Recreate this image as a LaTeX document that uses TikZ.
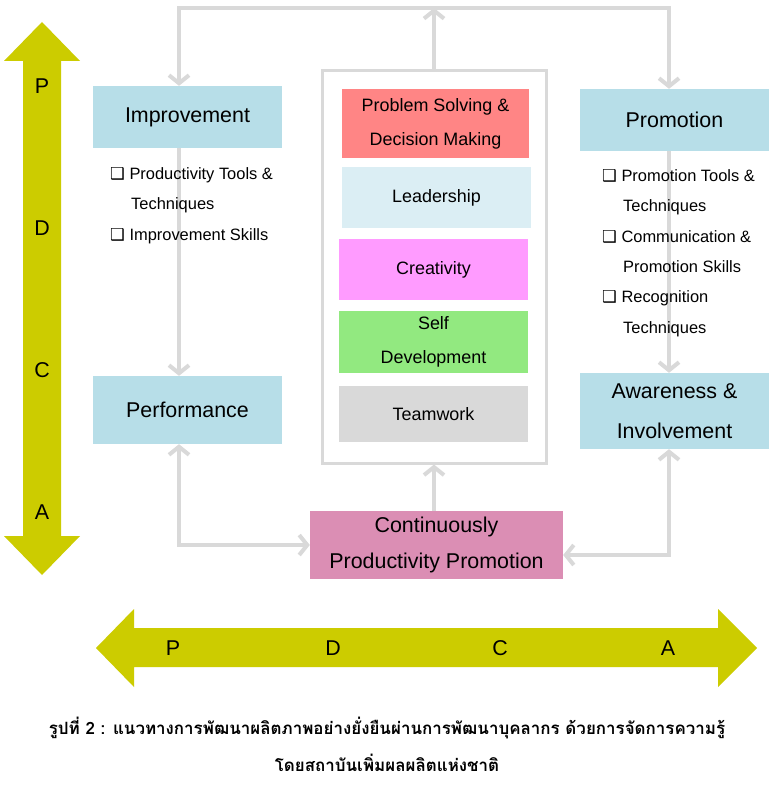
\documentclass[tikz,border=0pt]{standalone}
\usepackage{fontspec}
\setmainfont{Liberation Sans}
\newfontfamily\thaifont[Script=Thai]{Loma}
\newfontfamily\dingfont{DejaVu Sans}
\usetikzlibrary{arrows.meta}

\definecolor{pdcayellow}{RGB}{204,204,0}
\definecolor{boxblue}{RGB}{183,222,232}
\definecolor{probred}{RGB}{255,133,133}
\definecolor{leadblue}{RGB}{219,238,244}
\definecolor{creapink}{RGB}{255,155,255}
\definecolor{selfgreen}{RGB}{146,233,128}
\definecolor{teamgray}{RGB}{217,217,217}
\definecolor{contpink}{RGB}{219,142,180}
\definecolor{linkgray}{RGB}{217,217,217}

\newcommand{\chk}{{\dingfont\symbol{"2751}}}

\tikzset{
	box/.style={fill=#1, minimum width=189bp, inner sep=0pt, align=center},
	bigtext/.style={font=\fontsize{21.5}{40}\selectfont},
	skilltext/.style={font=\fontsize{18}{34}\selectfont},
	item/.style={anchor=base west, inner sep=0pt, font=\fontsize{16.5}{20}\selectfont},
	letter/.style={inner sep=0pt, font=\fontsize{21.5}{25}\selectfont},
	link/.style={draw=linkgray, line width=4bp},
	pdca/.style={fill=pdcayellow}
}

\begin{document}
\begin{tikzpicture}[x=1bp, y=-1bp, >={Straight Barb[length=8bp,width=20bp]}]
	\path[fill=white, use as bounding box] (0,0) rectangle (772,788);

	% PDCA Pfeile
	\fill[pdca] (42,22) -- (80,61) -- (61,61) -- (61,536) -- (80,536) -- (42,575)
		-- (4,536) -- (23,536) -- (23,61) -- (4,61) -- cycle;
	\node[letter] (vp) at (42,86) {P};
	\node[letter] (vd) at (42,228) {D};
	\node[letter] (vc) at (42,370) {C};
	\node[letter] (va) at (42,512) {A};

	\fill[pdca] (96,648) -- (134,609) -- (134,628) -- (718,628) -- (718,609) -- (757,648)
		-- (718,687) -- (718,667) -- (134,667) -- (134,687) -- cycle;
	\node[letter] (hp) at (173,648) {P};
	\node[letter] (hd) at (333,648) {D};
	\node[letter] (hc) at (500,648) {C};
	\node[letter] (ha) at (668,648) {A};

	% Kaesten
	\node[box=boxblue, bigtext, minimum height=62bp] (impr) at (187.5,117) {Improvement};
	\node[box=boxblue, bigtext, minimum height=68bp] (perf) at (187.5,410) {Performance};
	\node[box=boxblue, bigtext, minimum height=62bp] (promo) at (674.5,120) {Promotion};
	\node[box=boxblue, bigtext, minimum height=76bp] (aware) at (674.5,411) {Awareness \&\\Involvement};
	\node[box=contpink, bigtext, minimum width=253bp, minimum height=68bp,
		font=\fontsize{21.5}{36}\selectfont] (cont) at (436.5,545) {Continuously\\Productivity Promotion};

	% Rahmen mit Faehigkeiten
	\node[draw=linkgray, line width=3bp, minimum width=224bp, minimum height=392bp] (frame) at (434,267) {};
	\node[box=probred, skilltext, minimum width=187bp, minimum height=69bp] (prob) at (435.5,123.5)
		{Problem Solving \&\\Decision Making};
	\node[box=leadblue, skilltext, minimum height=61bp] (lead) at (436.5,197.5) {Leadership};
	\node[box=creapink, skilltext, minimum height=61bp] (crea) at (433.5,269.5) {Creativity};
	\node[box=selfgreen, skilltext, minimum height=62bp] (self) at (433.5,342) {Self\\Development};
	\node[box=teamgray, skilltext, minimum height=56bp] (team) at (433.5,414) {Teamwork};

	% Verbindungen
	\coordinate (top) at (434,8);
	\coordinate (lx) at (179,8);
	\coordinate (rx) at (669,8);
	\draw[link, ->] (frame.north) -- (top);
	\draw[link, <->] (lx |- impr.north) -- (lx) -- (rx) -- (rx |- promo.north);
	\draw[link, ->] (lx |- impr.south) -- (lx |- perf.north);
	\draw[link, ->] (rx |- promo.south) -- (rx |- aware.north);
	\draw[link, <->] (lx |- perf.south) |- (cont.west);
	\draw[link, <->] (rx |- aware.south) |- ([yshift=-10bp]cont.east);
	\draw[link, ->] (frame.south |- cont.north) -- (frame.south);

	% Aufzaehlungen
	\node[item] (i1) at (110,179) {\chk\ Productivity Tools \&};
	\node[item] (i2) at (131,209.5) {Techniques};
	\node[item] (i3) at (110,240) {\chk\ Improvement Skills};

	\node[item] (p1) at (602,181) {\chk\ Promotion Tools \&};
	\node[item] (p2) at (623,211) {Techniques};
	\node[item] (p3) at (602,242) {\chk\ Communication \&};
	\node[item] (p4) at (623,272) {Promotion Skills};
	\node[item] (p5) at (602,302) {\chk\ Recognition};
	\node[item] (p6) at (623,333) {Techniques};

	% Bildunterschrift
	\node[font=\thaifont\bfseries\fontsize{17}{20}\selectfont] (cap1) at (387,728)
		{รูปที่ 2 : แนวทางการพัฒนาผลิตภาพอย่างยั่งยืนผ่านการพัฒนาบุคลากร ด้วยการจัดการความรู้};
	\node[font=\thaifont\bfseries\fontsize{17}{20}\selectfont] (cap2) at (387,763)
		{โดยสถาบันเพิ่มผลผลิตแห่งชาติ};
\end{tikzpicture}
\end{document}
